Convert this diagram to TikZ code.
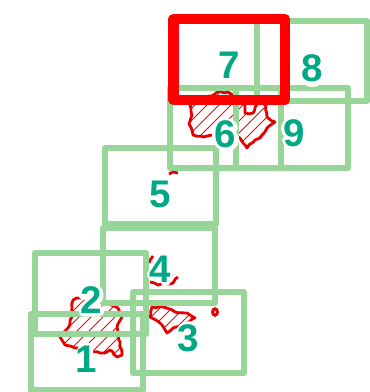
\documentclass[tikz,border=0pt]{standalone}
\usepackage{fontspec}
\usetikzlibrary{decorations.pathmorphing}
\setmainfont{Liberation Sans}
\definecolor{boxgreen}{HTML}{98D598}
\definecolor{labelgreen}{HTML}{00A884}
\definecolor{hotred}{HTML}{FF0000}
\definecolor{blobred}{HTML}{E60000}
\pgfmathsetseed{7}
\tikzset{
  greenbox/.style={draw=boxgreen,line width=6pt,line join=round,fill=none},
  redbox/.style={draw=hotred,line width=10.6pt,line join=round,fill=none},
  blobline/.style={draw=blobred,line width=2.8pt,line join=round,decorate,decoration={random steps,segment length=4pt,amplitude=0.9pt}},
  hatchline/.style={draw=hotred,line width=0.8pt},
  digit/.style={font=\bfseries\fontsize{38.5}{38.5}\selectfont,inner sep=0pt,text=labelgreen},
  halo/.style={draw=white,line width=11pt,line cap=round,line join=round,fill=none}
}
\newcommand{\hatched}[1]{%
  \begin{scope}
    \clip #1;
    \foreach \i in {-400,-388,...,400}{\draw[hatchline] (\i,400) -- (\i+400,0);}
  \end{scope}
  \draw[blobline] #1;}
\begin{document}
\begin{tikzpicture}[x=1pt,y=-1pt]
\useasboundingbox (0,0) rectangle (370,392);
\fill[white] (0,0) rectangle (370,392);
% hatched regions
\hatched{(190,105) -- (192,115) -- (189,124) -- (193,135) -- (203,137) -- (213,135) -- (226,134) -- (240,138) -- (243,143) -- (247,148) -- (255,140) -- (260,138) -- (267,128) -- (275,122) -- (267,117) -- (266,105) -- (258,103) -- (253,113) -- (245,113) -- (245,105) -- (228,92) -- (217,92) -- (215,94) -- cycle}
\hatched{(72,308) -- (73,300) -- (80,298) -- (107,303) -- (118,308) -- (122,317) -- (117,327) -- (120,342) -- (122,355) -- (117,357) -- (113,352) -- (110,350) -- (105,353) -- (90,352) -- (75,348) -- (65,345) -- (60,337) -- (68,328) -- (72,317) -- cycle}
\hatched{(152,307) -- (150,317) -- (162,325) -- (167,333) -- (173,328) -- (182,326) -- (195,318) -- (187,313) -- (175,312) -- (163,307) -- cycle}
\draw[blobline] (149,263) -- (153,256);
\draw[blobline] (150,282) -- (158,285) -- (173,283) -- (178,277);
\draw[draw=blobred,line width=3pt] (215,312) ellipse (2.4 and 3.2);
\draw[blobline] (169,174) -- (173,172) -- (178,173);
% green boxes
\draw[greenbox] (170,88) rectangle (281,168);
\draw[greenbox] (236,88) rectangle (348,168);
\draw[greenbox] (257,21) rectangle (367,101);
\draw[greenbox] (104.5,148) rectangle (216,224);
\draw[greenbox] (103,228) rectangle (215,303);
\draw[greenbox] (35,253) rectangle (146,334);
\draw[greenbox] (133,292) rectangle (244,373);
\draw[greenbox] (31,314) rectangle (143,390);
% halos round the numbers
\draw[halo,shift={(86.5,359)}] (-5,-7) -- (1,-11) -- (1,11) (-6,11) -- (8,11);
\draw[halo,shift={(91,300)}] (-7,-5) .. controls (-5,-13) and (7,-13) .. (7,-5) .. controls (7,2) and (-7,5) .. (-7,11) -- (8,11);
\draw[halo,shift={(188.5,338)}] (-7,-6) .. controls (-5,-13) and (7,-13) .. (7,-6) .. controls (7,-1) and (2,-1) .. (0,-1) .. controls (3,-1) and (8,0) .. (8,6) .. controls (8,13) and (-6,14) .. (-8,6);
\draw[halo,shift={(160.5,269.5)}] (5,11) -- (5,-11) -- (-8,5) -- (9,5);
\draw[halo,shift={(160.5,194.5)}] (7,-11) -- (-5,-11) -- (-7,1) .. controls (-2,-3) and (8,-3) .. (8,5) .. controls (8,13) and (-6,14) .. (-8,7);
\draw[halo,shift={(225.5,134.5)}] (7,-7) .. controls (4,-13) and (-8,-13) .. (-8,1) .. controls (-8,14) and (8,14) .. (8,5) .. controls (8,-3) and (-7,-3) .. (-8,3);
\draw[halo,shift={(312.5,68.5)}] (0,-1) .. controls (-10,-1) and (-7,-12) .. (0,-12) .. controls (7,-12) and (10,-1) .. (0,-1) .. controls (-11,-1) and (-10,13) .. (0,13) .. controls (10,13) and (11,-1) .. (0,-1);
\draw[halo,shift={(294.5,133.5)}] (-7,7) .. controls (-4,13) and (8,13) .. (8,-1) .. controls (8,-14) and (-8,-14) .. (-8,-5) .. controls (-8,3) and (7,3) .. (8,-3);
% labels
\node[digit] (one) at (86.5,359) {1};
\node[digit] (two) at (91,300) {2};
\node[digit] (three) at (188.5,338) {3};
\node[digit] (four) at (160.5,269.5) {4};
\node[digit] (five) at (160.5,194.5) {5};
\node[digit] (six) at (225.5,134.5) {6};
\node[digit] (seven) at (229,65.5) {7};
\node[digit] (eight) at (312.5,68.5) {8};
\node[digit] (nine) at (294.5,133.5) {9};
% red box
\draw[redbox] (173.5,19) rectangle (285,100);
\end{tikzpicture}
\end{document}
